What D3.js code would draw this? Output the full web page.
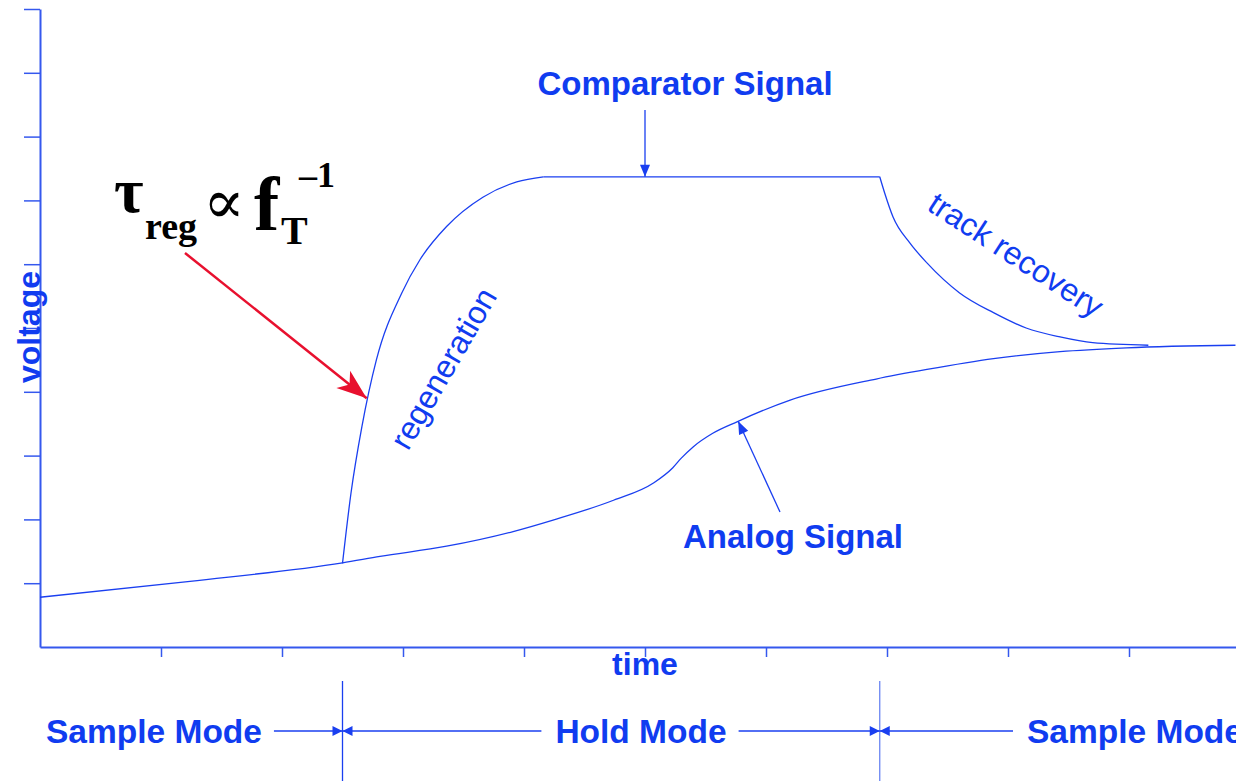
<!DOCTYPE html>
<html><head><meta charset="utf-8">
<script src="https://cdn.jsdelivr.net/npm/d3@7"></script>
<style>html,body{margin:0;padding:0;background:#fff;overflow:hidden}</style>
</head><body>
<svg id="chart" width="1236" height="781"></svg>
<script>
// ---- data ----
const timeTicks = [1, 2, 3, 4, 5, 6, 7, 8, 9];
const voltageTicks = [1, 2, 3, 4, 5, 6, 7, 8, 9, 10];

const analogTime    = [0, 1.24, 2.50, 2.81, 3.36, 3.91, 4.24, 4.74, 5.07, 5.23, 5.30, 5.40, 5.56, 5.76, 6.20, 6.91, 7.33, 7.88, 8.43, 8.98, 9.88];
const analogVoltage = [0.78, 1.03, 1.32, 1.42, 1.58, 1.81, 1.99, 2.30, 2.57, 2.81, 2.96, 3.14, 3.35, 3.53, 3.87, 4.20, 4.35, 4.52, 4.63, 4.69, 4.73];

const regenTime    = [2.50, 2.57, 2.66, 2.78, 2.99, 3.14, 3.36, 3.66, 3.94, 4.16];
const regenVoltage = [1.31, 2.41, 3.45, 4.50, 5.55, 6.07, 6.59, 7.05, 7.29, 7.37];

const holdTime    = [4.16, 6.94];
const holdVoltage = [7.37, 7.37];

const recoveryTime    = [6.94, 6.98, 7.05, 7.19, 7.33, 7.60, 7.88, 8.15, 8.43, 8.70, 9.16];
const recoveryVoltage = [7.37, 7.12, 6.74, 6.33, 6.02, 5.55, 5.24, 5.00, 4.86, 4.77, 4.73];

const modeBoundaries = [2.50, 6.94];
const modeLabels = ["Sample Mode", "Hold Mode", "Sample Mode"];

// ---- setup ----
const W = 1236, H = 781;
const BLUE = "#103cf0", AXIS = "#3558ee", LINE = "#1a3ff0", RED = "#e8102e";
const svg = d3.select("#chart");
svg.append("rect").attr("width", W).attr("height", H).attr("fill", "#fff");

const x = d3.scaleLinear().domain([0, 10]).range([40, 1250]);
const y = d3.scaleLinear().domain([0, 10]).range([647, 9]);

// axes
const gx = svg.append("g").attr("transform", `translate(0,${y(0)})`)
  .call(d3.axisBottom(x).tickValues(timeTicks).tickSize(10).tickSizeOuter(0).tickFormat(""));
const gy = svg.append("g").attr("transform", `translate(${x(0)},0)`)
  .call(d3.axisLeft(y).tickValues(voltageTicks).tickSize(16).tickSizeOuter(0).tickFormat(""));
[gx, gy].forEach(g => {
  g.select(".domain").attr("stroke", AXIS).attr("stroke-width", 2);
  g.selectAll(".tick line").attr("stroke", AXIS).attr("stroke-width", 1.5);
});

const labelFont = "'Liberation Sans', Arial, sans-serif";
svg.append("text").attr("x", 645).attr("y", 675).attr("text-anchor", "middle")
  .attr("font-family", labelFont).attr("font-weight", "bold").attr("font-size", 32)
  .attr("fill", BLUE).text("time");
svg.append("text").attr("transform", "translate(40,327) rotate(-90)").attr("text-anchor", "middle")
  .attr("font-family", labelFont).attr("font-weight", "bold").attr("font-size", 32)
  .attr("fill", BLUE).text("voltage");

// curves
const zip = (a, b) => a.map((v, i) => [v, b[i]]);
const smooth = d3.line().x(d => x(d[0])).y(d => y(d[1])).curve(d3.curveMonotoneX);
const straight = d3.line().x(d => x(d[0])).y(d => y(d[1]));
const curveG = svg.append("g").attr("fill", "none").attr("stroke", LINE).attr("stroke-width", 1.3);
curveG.append("path").attr("d", smooth(zip(analogTime, analogVoltage)));
curveG.append("path").attr("d", smooth(zip(regenTime, regenVoltage)));
curveG.append("path").attr("d", straight(zip(holdTime, holdVoltage)));
curveG.append("path").attr("d", smooth(zip(recoveryTime, recoveryVoltage)));

// arrow helper
function arrow(g, x1, y1, x2, y2, color, sw, len, half, notch) {
  g.append("line").attr("x1", x1).attr("y1", y1).attr("x2", x2).attr("y2", y2)
    .attr("stroke", color).attr("stroke-width", sw);
  const dx = x2 - x1, dy = y2 - y1, L = Math.hypot(dx, dy);
  const ux = dx / L, uy = dy / L, px = -uy, py = ux;
  const bx = x2 - ux * len, by = y2 - uy * len;
  const nx = x2 - ux * (len - notch), ny = y2 - uy * (len - notch);
  g.append("path").attr("d",
    `M${x2},${y2}L${bx + px * half},${by + py * half}L${nx},${ny}L${bx - px * half},${by - py * half}Z`)
    .attr("fill", color).attr("stroke", "none");
}
const ann = svg.append("g");

// Comparator Signal
svg.append("text").attr("x", 685).attr("y", 95).attr("text-anchor", "middle")
  .attr("font-family", labelFont).attr("font-weight", "bold").attr("font-size", 33)
  .attr("fill", BLUE).text("Comparator Signal");
arrow(ann, x(5.0), 110, x(5.0), y(7.37), LINE, 1.3, 12, 5, 0);

// Analog Signal
svg.append("text").attr("x", 793).attr("y", 548).attr("text-anchor", "middle")
  .attr("font-family", labelFont).attr("font-weight", "bold").attr("font-size", 33)
  .attr("fill", BLUE).text("Analog Signal");
arrow(ann, 780, 512, x(5.77), y(3.54), LINE, 1.3, 13, 5, 0);

// regeneration / track recovery
svg.append("text").attr("transform", "translate(453,374) rotate(-60)").attr("text-anchor", "middle")
  .attr("font-family", labelFont).attr("font-size", 32).attr("fill", BLUE).text("regeneration");
svg.append("text").attr("transform", "translate(1010,264) rotate(33)").attr("text-anchor", "middle")
  .attr("font-family", labelFont).attr("font-size", 32).attr("fill", BLUE).text("track recovery");

// formula
const serif = "'Liberation Serif', 'Times New Roman', 'DejaVu Serif', serif";
const f = svg.append("g").attr("fill", "#000").attr("font-family", serif).attr("font-weight", "bold");
f.append("text").attr("x", 114).attr("y", 212).attr("font-size", 64).text("τ");
f.append("text").attr("x", 145).attr("y", 239).attr("font-size", 38).text("reg");
f.append("text").attr("x", 203).attr("y", 223).attr("font-size", 62).attr("font-weight", "normal").text("∝");
f.append("text").attr("x", 254).attr("y", 230).attr("font-size", 76).text("f");
f.append("text").attr("x", 281).attr("y", 244).attr("font-size", 40).text("T");
f.append("text").attr("x", 299).attr("y", 187).attr("font-size", 36).text("–1");

// red arrow
arrow(ann, 185, 253, x(2.70), y(3.90), RED, 2.5, 30, 11, 8);

// mode section
const modeG = svg.append("g");
modeBoundaries.forEach((b, i) => {
  modeG.append("line").attr("x1", x(b)).attr("x2", x(b)).attr("y1", 681).attr("y2", 781)
    .attr("stroke", i === 0 ? LINE : "#6a85f2").attr("stroke-width", 1.3);
});
const modeX = [46, 641, 1027];
const modeAnchor = ["start", "middle", "start"];
const modeTexts = modeLabels.map((lab, i) => modeG.append("text")
  .attr("x", modeX[i]).attr("y", 743).attr("text-anchor", modeAnchor[i])
  .attr("font-family", labelFont).attr("font-weight", "bold").attr("font-size", 33.5)
  .attr("fill", BLUE).text(lab));
const boxes = modeTexts.map(t => t.node().getBBox());
const AY = 731;
modeBoundaries.forEach((b, i) => {
  const bx = x(b);
  const left = boxes[i].x + boxes[i].width + 12;
  const right = boxes[i + 1].x - 14;
  arrow(modeG, left, AY, bx, AY, LINE, 1.3, 10, 5, 0);
  arrow(modeG, right, AY, bx, AY, LINE, 1.3, 10, 5, 0);
});
</script>
</body></html>
